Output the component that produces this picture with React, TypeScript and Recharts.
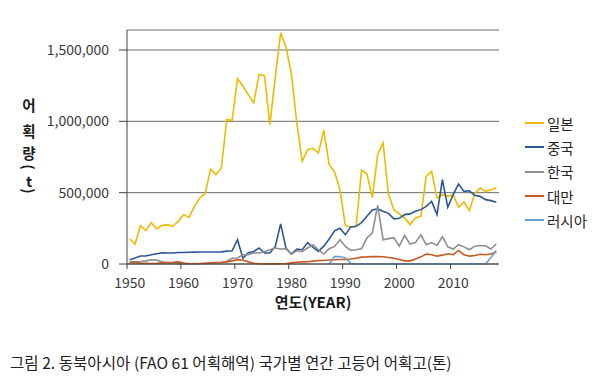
import React from 'react';
import { LineChart, Line, XAxis, YAxis, CartesianGrid, Legend } from 'recharts';

const YEARS: number[] = Array.from({ length: 69 }, (_, i) => 1950 + i);

const JAPAN = [
  175000, 140000, 269000, 234000, 290000, 245000, 269000, 276000, 264000, 299000,
  346000, 327000, 404000, 463000, 493000, 666000, 626000, 673000, 1012000, 1007000,
  1300000, 1246000, 1187000, 1129000, 1328000, 1320000, 977000, 1310000, 1620000, 1520000,
  1330000, 985000, 720000, 802000, 811000, 778000, 938000, 696000, 645000, 521000,
  270000, 258000, 264000, 658000, 632000, 465000, 767000, 849000, 490000, 381000,
  352000, 323000, 276000, 323000, 334000, 614000, 650000, 463000, 486000, 474000,
  486000, 397000, 435000, 374000, 495000, 533000, 509000, 521000, 535000,
];

const CHINA = [
  30000, 42000, 56000, 56000, 65000, 72000, 79000, 77000, 77000, 81000,
  81000, 82000, 83000, 84000, 84000, 84000, 84000, 85000, 90000, 93000,
  170000, 40000, 79000, 88000, 112000, 77000, 77000, 123000, 281000, 110000,
  70000, 105000, 100000, 150000, 116000, 88000, 125000, 175000, 232000, 250000,
  205000, 260000, 264000, 290000, 334000, 378000, 386000, 369000, 355000, 316000,
  320000, 346000, 351000, 369000, 381000, 404000, 439000, 346000, 591000, 397000,
  486000, 561000, 509000, 513000, 481000, 474000, 451000, 444000, 432000,
];

const KOREA = [
  15000, 15000, 18000, 22000, 30000, 28000, 15000, 8000, 5000, 3000,
  2000, 2000, 3000, 4000, 5000, 5000, 6000, 8000, 20000, 40000,
  42000, 65000, 65000, 77000, 77000, 88000, 100000, 112000, 105000, 107000,
  70000, 93000, 88000, 112000, 135000, 100000, 70000, 107000, 123000, 170000,
  123000, 95000, 100000, 107000, 182000, 217000, 411000, 170000, 178000, 185000,
  125000, 200000, 140000, 150000, 205000, 135000, 150000, 130000, 192000, 120000,
  105000, 135000, 120000, 100000, 125000, 130000, 128000, 105000, 142000,
];

const TAIWAN = [
  8000, 10000, 6000, 5000, 4000, 5000, 8000, 10000, 12000, 15000,
  6000, 3000, 2000, 3000, 5000, 8000, 10000, 12000, 15000, 22000,
  30000, 28000, 15000, 5000, 2000, 1000, 1000, 1000, 2000, 4000,
  8000, 12000, 15000, 16000, 20000, 24000, 25000, 28000, 30000, 32000,
  32000, 35000, 40000, 48000, 50000, 53000, 52000, 51000, 45000, 40000,
  32000, 22000, 22000, 35000, 50000, 70000, 65000, 55000, 62000, 72000,
  65000, 95000, 65000, 55000, 60000, 68000, 65000, 70000, 82000,
];

const RUSSIA = [
  null, null, null, null, null, null, null, null, null, null,
  null, null, null, null, null, null, null, null, null, null,
  null, null, null, null, null, null, null, null, null, null,
  null, null, null, null, null, null, null, 0, 53000, 52000,
  42000, 5000, 0, 0, 0, 0, 0, 0, 0, 0,
  0, 0, 0, 0, 0, 0, 0, 0, 0, 0,
  0, 0, 0, 0, 0, 0, 0, 45000, 95000,
];

const Y_TICKS = [0, 500000, 1000000, 1500000];
const X_TICKS = [1950, 1960, 1970, 1980, 1990, 2000, 2010];

const SERIES = [
  { key: 'japan', name: '일본', color: '#EDBB00', values: JAPAN },
  { key: 'china', name: '중국', color: '#2B5796', values: CHINA },
  { key: 'korea', name: '한국', color: '#8E8E8E', values: KOREA },
  { key: 'taiwan', name: '대만', color: '#C65A1E', values: TAIWAN },
  { key: 'russia', name: '러시아', color: '#6A9FD0', values: RUSSIA },
];

const data = YEARS.map((year, i) => {
  const row: Record<string, number | null> = { year };
  SERIES.forEach((s) => {
    row[s.key] = s.values[i];
  });
  return row;
});

const FONT = '"Noto Sans CJK KR", "Noto Sans", sans-serif';
const AXIS_COLOR = '#404040';
const TEXT_COLOR = '#3a3a3a';
const W = 600;
const H = 378;
const MARGIN = { top: 30, right: 101, bottom: 84, left: 0 };
const Y_AXIS_W = 127;
const X_AXIS_H = 30;
const PLOT_W = W - MARGIN.right - MARGIN.left - Y_AXIS_W;
const HALF = PLOT_W / YEARS.length / 2;
const X_TICK_SIZE = 5;
const X_TICK_MARGIN = 9;

const fmt = (v: number) => v.toLocaleString('en-US');

const XTick = (props: any) => {
  const { x, y, payload } = props;
  const top = y - X_TICK_MARGIN - X_TICK_SIZE;
  return (
    <g>
      <line x1={x - HALF} x2={x - HALF} y1={top} y2={top + X_TICK_SIZE} stroke={AXIS_COLOR} strokeWidth={1} />
      <text x={x} y={y} dy="0.71em" textAnchor="middle" fill={TEXT_COLOR} fontSize={14} fontFamily={FONT}>
        {payload.value}
      </text>
    </g>
  );
};

const renderLegend = () => (
  <div style={{ fontFamily: FONT, fontSize: 14.5, color: '#262626' }}>
    {SERIES.map((s) => (
      <div key={s.key} style={{ display: 'flex', alignItems: 'center', height: 24.3 }}>
        <span
          style={{
            display: 'inline-block',
            width: 19,
            height: 2,
            background: s.color,
            marginRight: 3,
          }}
        />
        <span>{s.name}</span>
      </div>
    ))}
  </div>
);

const Y_LABEL = [
  { ch: '어', y: 105, rot: false },
  { ch: '획', y: 130.5, rot: false },
  { ch: '량', y: 152.5, rot: false },
  { ch: '(', y: 166.5, rot: true },
  { ch: 't', y: 181, rot: false },
  { ch: ')', y: 191.3, rot: true },
];

export default function App() {
  return (
    <div style={{ position: 'absolute', left: 0, top: 0, width: W, height: H, background: '#fff', fontFamily: FONT }}>
      <LineChart width={W} height={H} data={data} margin={MARGIN}>
        <CartesianGrid vertical={false} stroke="#6a6a6a" strokeWidth={1} />
        <XAxis
          dataKey="year"
          type="number"
          domain={[1949.5, 2018.5]}
          ticks={X_TICKS}
          height={X_AXIS_H}
          tickLine={false}
          tickSize={X_TICK_SIZE}
          tickMargin={X_TICK_MARGIN}
          axisLine={{ stroke: AXIS_COLOR, strokeWidth: 1 }}
          tick={<XTick />}
          interval={0}
        />
        <YAxis
          type="number"
          domain={[0, 1640000]}
          ticks={Y_TICKS}
          width={Y_AXIS_W}
          tickSize={8}
          tickMargin={10}
          tickFormatter={fmt}
          axisLine={{ stroke: AXIS_COLOR, strokeWidth: 1 }}
          tickLine={{ stroke: AXIS_COLOR, strokeWidth: 1 }}
          tick={{ fill: TEXT_COLOR, fontSize: 14, fontFamily: FONT }}
          interval={0}
        />
        {SERIES.map((s) => (
          <Line
            key={s.key}
            type="linear"
            dataKey={s.key}
            name={s.name}
            stroke={s.color}
            strokeWidth={1.6}
            dot={false}
            activeDot={false}
            isAnimationActive={false}
          />
        ))}
        <Legend
          layout="vertical"
          align="center"
          verticalAlign="middle"
          content={renderLegend}
          wrapperStyle={{ position: 'absolute', left: 525, top: 111, width: 75, right: 'auto', bottom: 'auto' }}
        />
      </LineChart>
      {Y_LABEL.map((c, i) => (
        <div
          key={i}
          style={{
            position: 'absolute',
            left: 29,
            top: c.y,
            transform: `translate(-50%, -50%)${c.rot ? ' rotate(90deg)' : ''}`,
            fontSize: 14.5,
            fontWeight: 700,
            color: '#1a1a1a',
            lineHeight: 1,
          }}
        >
          {c.ch}
        </div>
      ))}
      <div
        style={{
          position: 'absolute',
          left: 313,
          top: 300.5,
          transform: 'translate(-50%, -50%)',
          fontSize: 15,
          fontWeight: 700,
          color: '#1a1a1a',
          whiteSpace: 'nowrap',
          lineHeight: 1,
        }}
      >
        연도(YEAR)
      </div>
      <div
        style={{
          position: 'absolute',
          left: 10,
          top: 352,
          fontSize: 15.6,
          color: '#222',
          whiteSpace: 'nowrap',
          lineHeight: '20px',
        }}
      >
        그림 2. 동북아시아 (FAO 61 어획해역) 국가별 연간 고등어 어획고(톤)
      </div>
    </div>
  );
}
